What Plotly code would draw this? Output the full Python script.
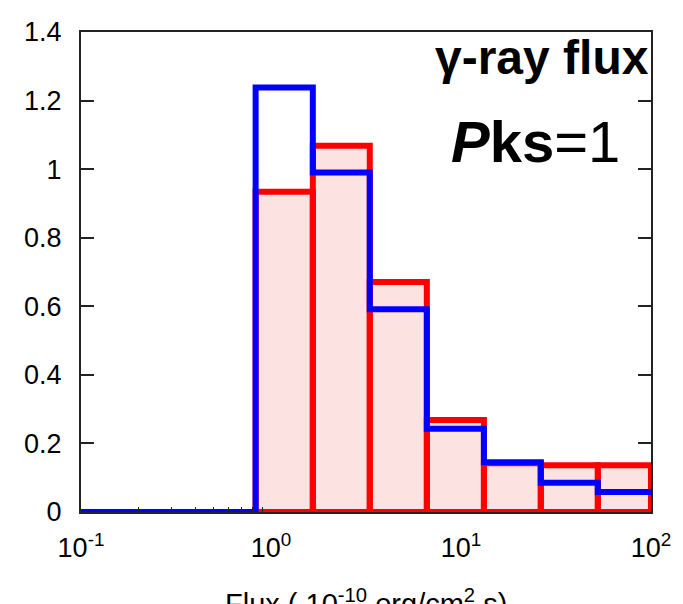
import plotly.graph_objects as go

# Data
x_min = 0.1
bin_edges = [0.83, 1.66, 3.31, 6.61, 13.2, 26.3, 52.5, 100.0]
red_values = [0.934, 1.068, 0.671, 0.268, 0.142, 0.136, 0.136]
blue_values = [1.238, 0.99, 0.591, 0.243, 0.145, 0.085, 0.058]
x_tickvals = [0.1, 1, 10, 100]
x_ticktext = ["10<sup>-1</sup>", "10<sup>0</sup>", "10<sup>1</sup>", "10<sup>2</sup>"]
x_minor_tickvals = [0.2, 0.3, 0.4, 0.5, 0.6, 0.7, 0.8, 0.9]
y_tickvals = [0, 0.2, 0.4, 0.6, 0.8, 1.0, 1.2, 1.4]

RED = "#ff0000"
BLUE = "#0000ff"
PINK = "rgb(253,226,226)"
FONT = "Liberation Sans, Arial, sans-serif"

# step path (hv) for fill and blue line
step_x = [x_min] + bin_edges
red_step_y = [0] + red_values + [red_values[-1]]
blue_step_y = [0] + blue_values + [blue_values[-1]]

# red rectangles outlines
rx, ry = [x_min, bin_edges[0], None], [0, 0, None]
for i, h in enumerate(red_values):
    a, b = bin_edges[i], bin_edges[i + 1]
    rx += [a, a, b, b, a, None]
    ry += [0, h, h, 0, 0, None]

fig = go.Figure()
fig.add_trace(go.Scatter(x=step_x, y=red_step_y, mode="lines", line=dict(shape="hv", width=0, color=PINK),
                         fill="tozeroy", fillcolor=PINK, hoverinfo="skip"))
fig.add_trace(go.Scatter(x=rx, y=ry, mode="lines", line=dict(color=RED, width=6), hoverinfo="skip"))
fig.add_trace(go.Scatter(x=step_x, y=blue_step_y, mode="lines", line=dict(shape="hv", color=BLUE, width=6),
                         hoverinfo="skip"))

fig.update_layout(
    width=683, height=604,
    margin=dict(l=81, r=27, t=32, b=92),
    paper_bgcolor="white", plot_bgcolor="white",
    showlegend=False,
    font=dict(family=FONT, size=26, color="black"),
)
fig.update_xaxes(
    type="log", range=[-1, 2],
    tickvals=x_tickvals, ticktext=x_ticktext,
    ticks="", 
    showline=True, linecolor="#222", linewidth=2, mirror=True,
    showgrid=False, zeroline=False,
    ticklabelstandoff=11,
    minor=dict(tickmode="array", tickvals=x_minor_tickvals, ticks="inside", ticklen=5,
               tickwidth=1.2, tickcolor="#222", showgrid=False),
    tickfont=dict(size=27),
)
fig.update_yaxes(
    range=[0, 1.4], tickvals=y_tickvals,
    ticks="inside", ticklen=13, tickwidth=1.5, tickcolor="#222",
    showline=True, linecolor="#222", linewidth=2, mirror="ticks",
    showgrid=False, zeroline=False,
    ticklabelstandoff=12,
    tickfont=dict(size=27),
)

fig.add_annotation(xref="paper", yref="paper", x=1.0, y=0.946, xanchor="right", yanchor="middle",
                   text="<b>γ-ray flux</b>", showarrow=False, font=dict(size=48, family=FONT))
fig.add_annotation(xref="paper", yref="paper", x=0.949, y=0.772, xanchor="right", yanchor="middle",
                   text="<b><i>P</i>ks</b>=1", showarrow=False, font=dict(size=58, family=FONT))
fig.add_annotation(xref="paper", yref="paper", x=0.5, y=-0.145, xanchor="center", yanchor="top",
                   text="Flux ( 10<sup>-10</sup> erg/cm<sup>2</sup> s)", showarrow=False,
                   font=dict(size=29, family=FONT))

fig.write_html("out.html")
